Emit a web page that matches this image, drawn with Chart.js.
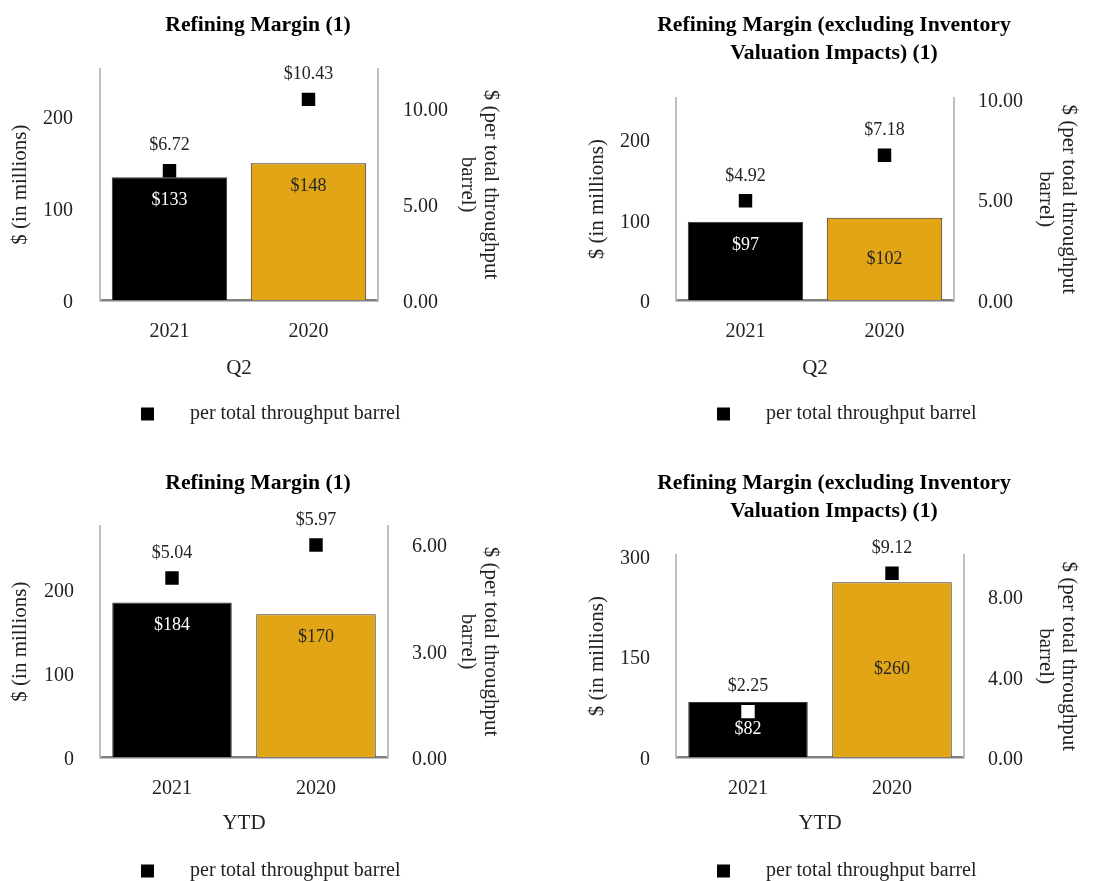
<!DOCTYPE html>
<html>
<head>
<meta charset="utf-8">
<title>Refining Margin</title>
<script src="https://cdn.jsdelivr.net/npm/chart.js@4.4.1/dist/chart.umd.min.js"></script>
<style>
    html, body { margin: 0; padding: 0; background: #ffffff; }
    #page { position: relative; width: 1110px; height: 881px; overflow: hidden; }
    .panel { position: absolute; }
    .panel canvas { display: block; }
</style>
</head>
<body>
<div id="page">
    <div class="panel" style="left:0;top:0"><canvas id="q2Margin" width="540" height="457"></canvas></div>
    <div class="panel" style="left:555px;top:0"><canvas id="q2AdjMargin" width="555" height="457"></canvas></div>
    <div class="panel" style="left:0;top:457px"><canvas id="ytdMargin" width="540" height="424"></canvas></div>
    <div class="panel" style="left:555px;top:457px"><canvas id="ytdAdjMargin" width="555" height="424"></canvas></div>
</div>
<script>
    // data
    var years = ['2021', '2020'];

    var q2MarginMillions = [133, 148];
    var q2MarginPerBarrel = [6.72, 10.43];

    var q2AdjMarginMillions = [97, 102];
    var q2AdjMarginPerBarrel = [4.92, 7.18];

    var ytdMarginMillions = [184, 170];
    var ytdMarginPerBarrel = [5.04, 5.97];

    var ytdAdjMarginMillions = [82, 260];
    var ytdAdjMarginPerBarrel = [2.25, 9.12];

    var markerLabel = 'per total throughput barrel';
    var leftAxisTitle = '$ (in millions)';
    var rightAxisTitle = ['$ (per total throughput', 'barrel)'];

    var BAR_COLORS = ['#000000', '#E2A516'];
    var BAR_TEXT_COLORS = ['#ffffff', '#262626'];
    var TEXT = '#222222';

    Chart.defaults.font.family = '"Liberation Serif", "Times New Roman", serif';
    Chart.defaults.color = TEXT;

    /*
     * plugins
     */
    function isStep(value, step) {
        var r = value / step;
        return Math.abs(r - Math.round(r)) < 1e-9;
    }

    var valueLabels = {
        id: 'valueLabels',
        afterDatasetsDraw: function (chart, args, opts) {
            var ctx = chart.ctx;
            ctx.save();
            ctx.font = '18px "Liberation Serif"';
            ctx.textAlign = 'center';
            ctx.textBaseline = 'middle';
            chart.data.datasets.forEach(function (ds, i) {
                var meta = chart.getDatasetMeta(i);
                meta.data.forEach(function (el, j) {
                    var v = ds.data[j];
                    if (ds.type === 'line') {
                        ctx.fillStyle = TEXT;
                        ctx.fillText('$' + v.toFixed(2), el.x, el.y - 25);
                    } else {
                        var y = opts.anchors[j] === 'center' ? (el.y + el.base) / 2 : el.y + 23;
                        ctx.fillStyle = BAR_TEXT_COLORS[j];
                        ctx.fillText('$' + v, el.x, y);
                    }
                });
            });
            ctx.restore();
        }
    };

    var squareLegend = {
        id: 'squareLegend',
        afterDraw: function (chart, args, opts) {
            var ctx = chart.ctx;
            ctx.save();
            ctx.fillStyle = '#000000';
            ctx.fillRect(opts.x, opts.y - 6.5, 13, 13);
            ctx.font = '20px "Liberation Serif"';
            ctx.textBaseline = 'middle';
            ctx.textAlign = 'left';
            ctx.fillStyle = TEXT;
            ctx.fillText(markerLabel, opts.x + 49, opts.y);
            ctx.restore();
        }
    };

    /*
     * chart builder
     */
    function buildChart(id, o) {
        return new Chart(document.getElementById(id), {
            type: 'bar',
            data: {
                labels: years,
                datasets: [
                    {
                        type: 'line',
                        label: markerLabel,
                        data: o.perBarrel,
                        yAxisID: 'y1',
                        showLine: false,
                        pointStyle: 'rect',
                        pointRadius: 9.5,
                        pointHoverRadius: 9.5,
                        pointBackgroundColor: o.markerColors || ['#000000', '#000000'],
                        pointBorderWidth: 0,
                        order: 0
                    },
                    {
                        type: 'bar',
                        label: 'Refining margin',
                        data: o.millions,
                        yAxisID: 'y',
                        backgroundColor: BAR_COLORS,
                        borderColor: '#333333',
                        borderWidth: 1,
                        barPercentage: 0.83,
                        categoryPercentage: 1,
                        order: 1
                    }
                ]
            },
            options: {
                responsive: false,
                animation: false,
                devicePixelRatio: 1,
                layout: { padding: { left: o.padLeft, right: o.padRight, top: 0, bottom: o.padBottom } },
                scales: {
                    x: {
                        grid: { display: false, drawTicks: false },
                        border: { display: true, color: '#808080', width: 2.5 },
                        ticks: { color: TEXT, font: { size: 20 }, padding: 20 },
                        title: { display: true, text: o.period, color: TEXT, font: { size: 21 }, padding: 0 },
                        afterFit: function (s) { s.height = o.xHeight; }
                    },
                    y: {
                        position: 'left',
                        min: 0,
                        max: o.yMax,
                        grid: { display: false, drawTicks: false },
                        border: { display: true, color: '#bfbfbf', width: 2 },
                        ticks: {
                            stepSize: o.yStep,
                            includeBounds: false,
                            labelOffset: 3,
                            color: TEXT,
                            font: { size: 20 },
                            padding: o.yTickPad,
                            callback: function (v) { return String(v); }
                        },
                        afterBuildTicks: function (s) {
                            s.ticks = s.ticks.filter(function (t) { return isStep(t.value, o.yStep); });
                        },
                        title: { display: true, text: leftAxisTitle, color: TEXT, font: { size: 21 }, padding: 0 },
                        afterFit: function (s) { s.width = o.yWidth; }
                    },
                    y1: {
                        position: 'right',
                        min: 0,
                        max: o.y1Max,
                        grid: { display: false, drawTicks: false },
                        border: { display: true, color: '#bfbfbf', width: 2 },
                        ticks: {
                            stepSize: o.y1Step,
                            includeBounds: false,
                            labelOffset: 3,
                            color: TEXT,
                            font: { size: 20 },
                            padding: o.y1TickPad,
                            callback: function (v) { return Number(v).toFixed(2); }
                        },
                        afterBuildTicks: function (s) {
                            s.ticks = s.ticks.filter(function (t) { return isStep(t.value, o.y1Step); });
                        },
                        title: {
                            display: true,
                            text: rightAxisTitle,
                            color: TEXT,
                            font: { size: 21, lineHeight: 1.1 },
                            padding: { top: o.y1TitlePad, bottom: 0 }
                        },
                        afterFit: function (s) { s.width = o.y1Width; }
                    }
                },
                plugins: {
                    title: {
                        display: true,
                        text: o.title,
                        color: '#000000',
                        font: { size: 21.7, weight: 'bold', lineHeight: 1.3 },
                        padding: { top: o.titlePadTop, bottom: o.titlePadBottom }
                    },
                    legend: { display: false },
                    tooltip: { enabled: false },
                    valueLabels: { anchors: o.anchors },
                    squareLegend: { x: o.legendX, y: 414 }
                }
            },
            plugins: [valueLabels, squareLegend]
        });
    }

    buildChart('q2Margin', {
        title: 'Refining Margin (1)',
        period: 'Q2',
        millions: q2MarginMillions,
        perBarrel: q2MarginPerBarrel,
        yMax: 250, yStep: 100, y1Max: 12, y1Step: 5,
        padLeft: 8, padRight: 32, padBottom: 76, xHeight: 81,
        yWidth: 92, y1Width: 130, yTickPad: 27, y1TickPad: 25, y1TitlePad: 6,
        titlePadTop: 11, titlePadBottom: 30,
        anchors: ['end', 'end'],
        legendX: 141
    });

    buildChart('q2AdjMargin', {
        title: ['Refining Margin (excluding Inventory', 'Valuation Impacts) (1)'],
        period: 'Q2',
        millions: q2AdjMarginMillions,
        perBarrel: q2AdjMarginPerBarrel,
        yMax: 250, yStep: 100, y1Max: 10, y1Step: 5,
        padLeft: 30, padRight: 27, padBottom: 76, xHeight: 81,
        yWidth: 91, y1Width: 129, yTickPad: 26, y1TickPad: 24, y1TitlePad: 3,
        titlePadTop: 11, titlePadBottom: 31,
        anchors: ['end', 'center'],
        legendX: 162
    });

    buildChart('ytdMargin', {
        title: 'Refining Margin (1)',
        period: 'YTD',
        millions: ytdMarginMillions,
        perBarrel: ytdMarginPerBarrel,
        yMax: 275, yStep: 100, y1Max: 6.5, y1Step: 3,
        padLeft: 8, padRight: 32, padBottom: 45, xHeight: 79,
        yWidth: 92, y1Width: 120, yTickPad: 26, y1TickPad: 24, y1TitlePad: 6,
        titlePadTop: 12, titlePadBottom: 29,
        anchors: ['end', 'end'],
        legendX: 141
    });

    buildChart('ytdAdjMargin', {
        title: ['Refining Margin (excluding Inventory', 'Valuation Impacts) (1)'],
        period: 'YTD',
        millions: ytdAdjMarginMillions,
        perBarrel: ytdAdjMarginPerBarrel,
        markerColors: ['#ffffff', '#000000'],
        yMax: 300, yStep: 150, y1Max: 10, y1Step: 4,
        padLeft: 30, padRight: 27, padBottom: 45, xHeight: 79,
        yWidth: 91, y1Width: 119, yTickPad: 26, y1TickPad: 24, y1TitlePad: 3,
        titlePadTop: 12, titlePadBottom: 30,
        anchors: ['center', 'center'],
        legendX: 162
    });
</script>
</body>
</html>
